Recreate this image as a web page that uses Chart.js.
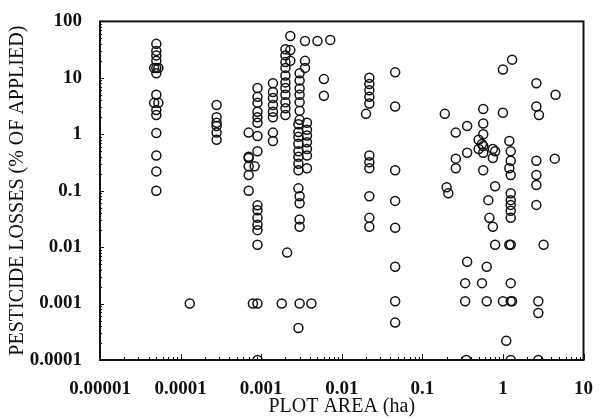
<!DOCTYPE html>
<html>
<head>
<meta charset="utf-8">
<script src="https://cdn.jsdelivr.net/npm/chart.js@4/dist/chart.umd.min.js"></script>
<style>
  body{margin:0;background:#fff;}
  canvas{display:block;}
</style>
</head>
<body>
<canvas id="chart" width="603" height="419"></canvas>
<script>
// plot area (ha) and pesticide loss (% of applied)
const smallArea = [5e-5,5e-5,5e-5,5e-5,4.7e-5,5e-5,5.3e-5,5e-5,5e-5,4.7e-5,5.3e-5,5e-5,5e-5,5e-5,5e-5,5e-5,5e-5,
  1.3e-4,2.8e-4,2.8e-4,2.8e-4,2.8e-4,2.8e-4,2.8e-4];
const smallLoss = [40,30,25,20,15,15,15,12,5,3.6,3.6,2.7,2.2,1.05,0.42,0.22,0.1,
  0.001,3.3,2.0,1.6,1.4,1.07,0.8];

const midArea = [7e-4,7e-4,7e-4,7e-4,7e-4,7e-4,7.9e-4,
  9e-4,9e-4,9e-4,9e-4,9e-4,9e-4,9e-4,9e-4,9e-4,9e-4,9e-4,9e-4,9e-4,9e-4,9e-4,9e-4,8.3e-4,
  0.0014,0.0014,0.0014,0.0014,0.0014,0.0014,0.0014,0.0014,0.0018,
  0.002,0.002,0.002,0.002,0.002,0.002,0.002,0.002,0.002,0.002,0.002,0.0021,
  0.0023,0.0023,0.0023,
  0.0029,0.0029,0.0029,0.0029,0.0029,0.0029,0.0029,0.0029,0.0029,0.0029,
  0.003,0.003,0.003,0.003,0.003,0.003,0.003,0.003,0.003,0.003,0.003,0.003,
  0.0035,0.0035,0.0035,
  0.0037,0.0037,0.0037,0.0037,0.0037,0.0037,0.0037,0.0042,
  0.005,0.006,0.006,0.0072,
  0.022,0.022,0.022,0.022,0.022,0.022,0.022,0.022,0.022,0.022,0.022,0.020,
  0.046,0.046,0.046,0.046,0.046,0.046,0.046,0.046];
const midLoss = [1.07,0.4,0.38,0.27,0.19,0.1,0.001,
  6.6,4.6,3.6,2.5,2.0,1.6,0.93,0.5,0.055,0.045,0.033,0.025,0.02,0.011,0.001,0.0001,0.27,
  8,5.6,4.4,3.3,2.5,2.0,1.07,0.76,0.001,
  32,25,19,15,11,8.3,6.6,5,3.7,2.9,2.2,0.008,
  55,31,20,
  1.5,1.1,0.9,0.68,0.5,0.4,0.3,0.23,0.11,0.00037,
  12,9,6.5,5,3.7,2.6,1.8,0.08,0.06,0.031,0.023,0.001,
  45,20,15,
  1.6,1.2,0.95,0.72,0.55,0.42,0.25,0.001,
  45,9.5,4.8,47,
  10,7.8,6,4.6,3.5,0.42,0.32,0.25,0.08,0.033,0.023,2.3,
  12.5,3.1,0.23,0.066,0.022,0.0045,0.0011,0.00046];

const fieldArea = [0.19,0.2,0.21,0.26,0.26,0.26,0.34,0.34,0.36,0.36,0.36,0.5,0.5,0.55,0.55,
  0.57,0.57,0.57,0.57,0.57,0.57,0.63,0.63,0.66,0.68,0.75,0.75,0.75,0.8,0.8,0.8,
  1.0,1.0,1.0,1.1,1.2,1.2,1.2,1.3,1.25,1.25,1.25,1.25,1.25,1.25,1.25,1.25,1.25,1.25,1.25,1.3,1.25,0.35,
  2.6,2.6,2.8,2.6,2.6,2.6,2.6,2.75,2.75,2.75,3.2,4.5,4.4];
const fieldLoss = [2.3,0.115,0.09,1.07,0.37,0.25,0.0023,0.0011,1.4,0.47,0.0055,0.8,0.55,0.0023,0.67,
  2.8,1.55,1.0,0.62,0.47,0.23,0.0045,0.0011,0.068,0.033,0.55,0.38,0.023,0.12,0.011,0.5,
  14,2.4,0.0011,0.00022,0.76,0.25,0.011,21,0.5,0.34,0.19,0.09,0.068,0.056,0.044,0.033,0.011,0.0023,0.0011,0.0011,0.0001,0.0001,
  8,3.1,2.2,0.34,0.19,0.126,0.056,0.0011,0.00068,0.0001,0.011,5.0,0.37];

const xTicks = [0.00001,0.0001,0.001,0.01,0.1,1,10];
const xTickLabels = ['0.00001','0.0001','0.001','0.01','0.1','1','10'];
const yTicks = [0.0001,0.001,0.01,0.1,1,10,100];
const yTickLabels = ['0.0001','0.001','0.01','0.1','1','10','100'];

function pts(xs, ys){ return xs.map((v,i)=>({x:v, y:ys[i]})); }
const points = [].concat(pts(smallArea,smallLoss), pts(midArea,midLoss), pts(fieldArea,fieldLoss));

// inward tick marks + box frame
const frameTicks = {
  id:'frameTicks',
  afterDatasetsDraw(chart){
    const {ctx, chartArea:a, scales:{x, y}} = chart;
    ctx.save();
    ctx.strokeStyle = '#111';
    ctx.lineWidth = 1;
    ctx.beginPath();
    for(let e=-5;e<=1;e++) for(let m=1;m<=9;m++){
      const v = m*Math.pow(10,e);
      if(v>10.0001) break;
      const px = Math.round(x.getPixelForValue(v))+0.5;
      ctx.moveTo(px,a.bottom); ctx.lineTo(px,a.bottom-(m===1?6:3));
    }
    for(let e=-4;e<=2;e++) for(let m=1;m<=9;m++){
      const v = m*Math.pow(10,e);
      if(v>100.001) break;
      const py = Math.round(y.getPixelForValue(v))+0.5;
      ctx.moveTo(a.left,py); ctx.lineTo(a.left+(m===1?4:2),py);
    }
    ctx.stroke();
    ctx.lineWidth = 2;
    ctx.strokeRect(a.left, a.top, a.right-a.left, a.bottom-a.top);
    ctx.restore();
  }
};

const tickFont = {family:'"Liberation Serif", "Times New Roman", serif', size:19, weight:'bold'};
const titleFont = {family:'"Liberation Serif", "Times New Roman", serif', size:20, weight:'normal'};

new Chart(document.getElementById('chart'), {
  type:'scatter',
  data:{ datasets:[{
    data: points,
    pointStyle:'circle',
    pointRadius:4.5,
    pointHoverRadius:4.5,
    borderWidth:1.5,
    borderColor:'#111',
    backgroundColor:'rgba(0,0,0,0)',
    clip:0
  }]},
  options:{
    responsive:false,
    animation:false,
    devicePixelRatio:1,
    layout:{padding:{top:15, right:14, left:0, bottom:0}},
    plugins:{legend:{display:false}, tooltip:{enabled:false}},
    scales:{
      x:{
        type:'logarithmic', min:0.00001, max:10,
        grid:{display:false}, border:{display:false},
        afterBuildTicks: s => { s.ticks = xTicks.map(v=>({value:v})); },
        afterFit: s => { s.height = 59; },
        ticks:{color:'#111', font:tickFont, padding:10, autoSkip:false, maxRotation:0,
          callback:(v,i)=>xTickLabels[i]},
        title:{display:true, text:'PLOT AREA (ha)', color:'#111', font:titleFont, padding:{top:3, bottom:0}}
      },
      y:{
        type:'logarithmic', min:0.0001, max:100,
        grid:{display:false}, border:{display:false},
        afterBuildTicks: s => { s.ticks = yTicks.map(v=>({value:v})); },
        afterFit: s => { s.width = 100; },
        ticks:{color:'#111', font:tickFont, padding:10, autoSkip:false,
          callback:(v,i)=>yTickLabels[i]},
        title:{display:true, text:'PESTICIDE LOSSES (% OF APPLIED)', color:'#111', font:titleFont, padding:{top:6, bottom:0}}
      }
    }
  },
  plugins:[frameTicks]
});
</script>
</body>
</html>
